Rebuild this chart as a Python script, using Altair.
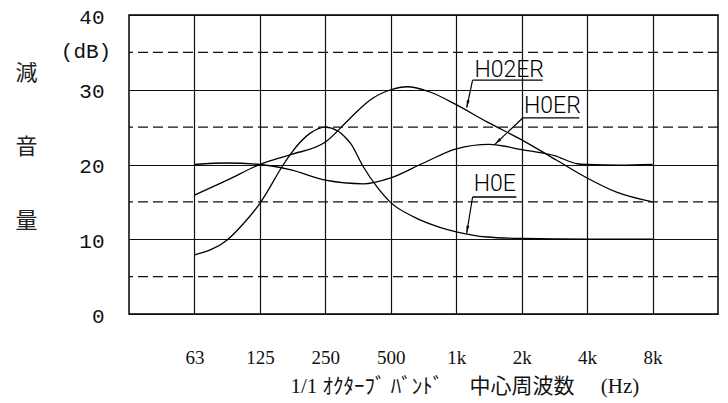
import altair as alt
import pandas as pd

# ---- data ----
bands = ["63", "125", "250", "500", "1k", "2k", "4k", "8k"]
y_ticks = [0, 10, 20, 30, 40]
dashed_levels = [5, 15, 25, 35]

# positions are octave-band indices (0 = 63 Hz ... 7 = 8 kHz)
h0e_x = [0, 0.5, 0.75, 1, 1.36, 1.46, 1.77, 2, 2.38, 2.58, 2.79, 3, 3.35, 3.75, 4, 4.47, 5, 6, 7]
h0e_y = [7.9, 9.9, 12.1, 14.8, 20.0, 21.3, 24.2, 25.0, 22.9, 19.7, 17.0, 14.9, 13.0, 11.6, 11.0, 10.3, 10.1, 10.0, 10.0]

h0er_x = [0, 0.5, 1, 1.46, 2, 2.58, 3, 3.5, 4, 4.5, 5, 5.5, 5.85, 6, 6.5, 7]
h0er_y = [20.0, 20.2, 20.0, 19.3, 17.9, 17.4, 18.2, 20.2, 22.1, 22.7, 22.0, 21.2, 20.1, 20.0, 19.9, 20.0]

h02er_x = [0, 0.5, 1, 1.46, 2, 2.38, 2.68, 3, 3.25, 3.6, 4, 4.47, 5, 5.53, 6, 6.45, 7]
h02er_y = [15.9, 17.9, 20.0, 21.3, 23.0, 26.2, 28.6, 30.0, 30.4, 29.7, 28.0, 25.7, 23.3, 20.6, 18.2, 16.3, 15.0]

ann_labels = ["H02ER", "H0ER", "H0E"]
ann_text_x = [4.81, 5.47, 4.59]
ann_text_y = [31.7, 26.9, 16.5]
ann_line_x1 = [4.25, 5.02, 4.25]
ann_line_x2 = [5.32, 5.88, 4.92]
ann_line_y = [31.3, 26.25, 15.65]
ann_tip_x = [4.16, 4.59, 4.16]
ann_tip_y = [27.6, 22.7, 10.8]
ann_angle = [12, 47, 9]

y_title = ["減", "音", "量"]
unit_label = "(dB)"
x_title = "1/1 ｵｸﾀｰﾌﾞ ﾊﾞﾝﾄﾞ\u3000 中心周波数\u3000   (Hz)"

# ---- tables ----
rows = []
for name, xs, ys in [("H0E", h0e_x, h0e_y), ("H0ER", h0er_x, h0er_y), ("H02ER", h02er_x, h02er_y)]:
    for i, (a, b) in enumerate(zip(xs, ys)):
        rows.append({"series": name, "x": a, "y": b, "order": i})
curves = pd.DataFrame(rows)

ann = pd.DataFrame({
    "label": ann_labels, "tx": ann_text_x, "ty": ann_text_y,
    "lx1": ann_line_x1, "lx2": ann_line_x2, "ly": ann_line_y,
    "px": ann_tip_x, "py": ann_tip_y, "angle": ann_angle,
})
dash_df = pd.DataFrame({"y": dashed_levels})
unit_df = pd.DataFrame({"x": [-1], "y": [35.0], "t": [unit_label]})

xscale = alt.Scale(domain=[-1, 8], nice=False, zero=False)
yscale = alt.Scale(domain=[0, 40], nice=False, zero=False)

label_expr = "[" + ",".join("'" + b + "'" for b in bands) + "][datum.value]"

x_axis = alt.Axis(
    values=list(range(len(bands))), labelExpr=label_expr, grid=True, gridColor="#111",
    gridWidth=1.2, ticks=False, domain=False, labelFont="Liberation Serif",
    labelFontSize=19, labelColor="#111", labelPadding=43, labelBaseline="middle",
    labelFlush=False, labelOverlap=False,
    title=x_title, titleFont="Liberation Serif, Noto Sans CJK JP", titleFontSize=21,
    titleFontWeight="normal", titleColor="#111", titleAlign="left", titleBaseline="middle",
    titleX=161, titleY=72,
)
y_axis = alt.Axis(
    values=y_ticks, grid=True, gridColor="#111", gridWidth=1.2, ticks=False, domain=False,
    labelFont="Liberation Mono", labelFontSize=21, labelColor="#111", labelPadding=25,
    labelBaseline="middle", labelOffset=2, labelFlush=False, labelOverlap=False,
    title=y_title, titleFont="Noto Sans CJK JP", titleFontSize=22, titleFontWeight="normal",
    titleColor="#222", titleAngle=0, titleAlign="center", titleBaseline="middle",
    titleLineHeight=74, titleX=-103, titleY=57,
)


def X(field):
    return alt.X(field, type="quantitative", scale=xscale, axis=x_axis)


def Y(field):
    return alt.Y(field, type="quantitative", scale=yscale, axis=y_axis)


dashes = alt.Chart(dash_df).mark_rule(color="#111", strokeWidth=1.2, strokeDash=[10, 5]).encode(
    y=Y("y")
)

lines = alt.Chart(curves).mark_line(color="black", strokeWidth=1.3, interpolate="monotone").encode(
    x=X("x"),
    y=Y("y"),
    detail="series:N",
    order="order:Q",
)

underline = alt.Chart(ann).mark_rule(color="black", strokeWidth=1.3).encode(
    x=X("lx1"), x2="lx2:Q", y=Y("ly"),
)
leader = alt.Chart(ann).mark_rule(color="black", strokeWidth=1.2).encode(
    x=X("lx1"), x2="px:Q", y=Y("ly"), y2="py:Q",
)
arrows = alt.Chart(ann).mark_point(
    shape="M0,0L-0.3,-1.6L0.3,-1.6Z", filled=True, color="black", size=90, opacity=1
).encode(
    x=X("px"), y=Y("py"),
    angle=alt.Angle("angle:Q", scale=None),
)
labels = alt.Chart(ann).mark_text(
    font="Roboto", fontWeight=300, fontSize=23, color="black", align="center", baseline="alphabetic"
).encode(
    x=X("tx"), y=Y("ty"), text="label:N",
)
unit = alt.Chart(unit_df).mark_text(
    font="Liberation Mono", fontSize=21, color="#111", align="center", baseline="middle", dx=-43
).encode(
    x=X("x"), y=Y("y"), text="t:N",
)

chart = alt.layer(lines, dashes, underline, leader, arrows, labels, unit).properties(
    width=589, height=299,
    autosize=alt.AutoSizeParams(type="none"),
    padding={"left": 121, "top": 7, "right": 1, "bottom": 88},
    background="white",
).configure_view(stroke="black", strokeWidth=1.5)

chart.save("out.html", embed_options={"renderer": "svg", "actions": False})
